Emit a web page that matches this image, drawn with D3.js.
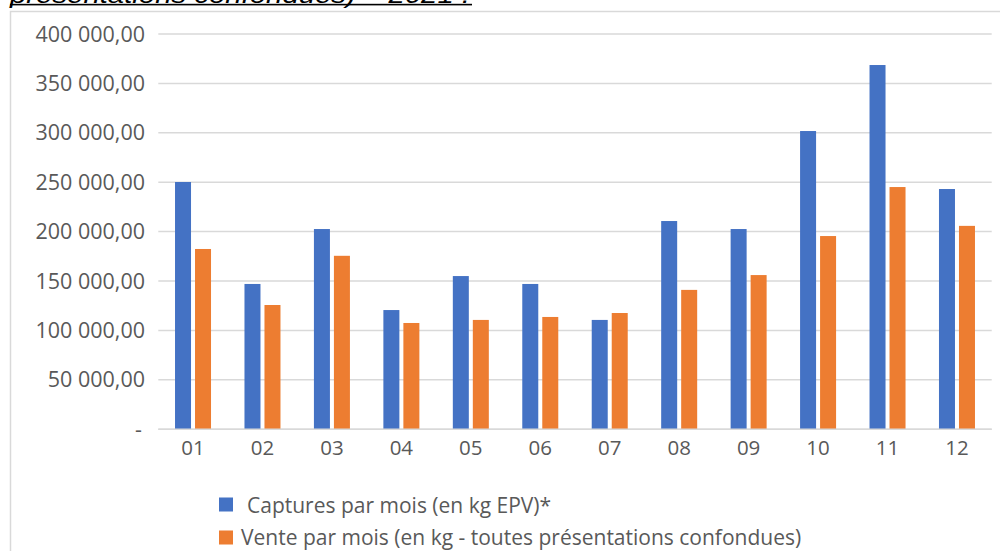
<!DOCTYPE html>
<html>
<head>
<meta charset="utf-8">
<script src="https://cdn.jsdelivr.net/npm/d3@7"></script>
<style>
  body { margin: 0; background: #fff; }
  svg { display: block; }
</style>
</head>
<body>
<div id="chart"></div>
<script>
// months and series
var months = ["01", "02", "03", "04", "05", "06", "07", "08", "09", "10", "11", "12"];
var captures = [250200, 147000, 202600, 120600, 155000, 147000, 110600, 210700, 202600, 301800, 368600, 243100];
var ventes = [182400, 125700, 175500, 107500, 110600, 113600, 117600, 141000, 156000, 195500, 245100, 205800];
var yTicks = [0, 50000, 100000, 150000, 200000, 250000, 300000, 350000, 400000];
var seriesNames = ["Captures par mois (en kg EPV)*", "Vente par mois (en kg - toutes présentations confondues)"];
var colors = ["#4472c4", "#ed7d31"];

var W = 1000, H = 551;
var plot = {left: 158.3, right: 991.7, top: 34, bottom: 429.2};

var svg = d3.select("#chart").append("svg")
    .attr("width", W)
    .attr("height", H)
    .style("font-family", "'Open Sans', 'Liberation Sans', sans-serif");

// cut-off title above the chart frame
svg.append("text")
    .attr("x", 10)
    .attr("y", 3)
    .attr("textLength", 460)
    .attr("lengthAdjust", "spacingAndGlyphs")
    .style("font-family", "'Liberation Sans', Arial, sans-serif")
    .style("font-style", "italic")
    .style("font-size", "24px")
    .attr("fill", "#000")
    .text("présentations confondues) – 2021 :");
svg.append("rect")
    .attr("x", 10).attr("y", 3.8)
    .attr("width", 462).attr("height", 1.6)
    .attr("fill", "#000");

// chart frame
svg.append("rect")
    .attr("x", 10.5).attr("y", 11.5)
    .attr("width", 1000).attr("height", 600)
    .attr("fill", "#fff")
    .attr("stroke", "#d9d9d9")
    .attr("stroke-width", 1.5);

var x = d3.scaleBand()
    .domain(months)
    .range([plot.left, plot.right]);

var y = d3.scaleLinear()
    .domain([0, 400000])
    .range([plot.bottom, plot.top]);

// gridlines
svg.append("g")
    .selectAll("line")
    .data(yTicks)
    .enter().append("line")
    .attr("x1", plot.left)
    .attr("x2", plot.right)
    .attr("y1", function(d) { return y(d); })
    .attr("y2", function(d) { return y(d); })
    .attr("stroke", "#d9d9d9")
    .attr("stroke-width", 1.5);

// y labels, french style "400 000,00", zero shown as "-"
var fmt = function(d) {
    if (d === 0) return "-";
    return d3.format(",")(d).replace(/,/g, " ") + ",00";
};
svg.append("g")
    .selectAll("text")
    .data(yTicks)
    .enter().append("text")
    .attr("x", function(d) { return d === 0 ? 142 : 145; })
    .attr("y", function(d) { return y(d); })
    .attr("dy", "0.35em")
    .attr("text-anchor", "end")
    .attr("fill", "#595959")
    .style("font-size", "21.5px")
    .text(fmt);

// bars: two per month, 16px wide with 4px gap
var barW = 16, gap = 4;

var groups = svg.append("g")
    .selectAll("g")
    .data(months)
    .enter().append("g")
    .attr("transform", function(d) {
        return "translate(" + (x(d) + (x.bandwidth() - (barW * 2 + gap)) / 2) + ",0)";
    });

groups.selectAll("rect")
    .data(function(d, i) { return [captures[i], ventes[i]]; })
    .enter().append("rect")
    .attr("x", function(d, j) { return j * (barW + gap); })
    .attr("y", function(d) { return y(d); })
    .attr("width", barW)
    .attr("height", function(d) { return plot.bottom - y(d); })
    .attr("fill", function(d, j) { return colors[j]; });

// x axis line drawn over bars
svg.append("line")
    .attr("x1", plot.left).attr("x2", plot.right)
    .attr("y1", plot.bottom).attr("y2", plot.bottom)
    .attr("stroke", "#d9d9d9")
    .attr("stroke-width", 1.5);

// x labels
svg.append("g")
    .selectAll("text")
    .data(months)
    .enter().append("text")
    .attr("x", function(d) { return x(d) + x.bandwidth() / 2; })
    .attr("y", 455)
    .attr("text-anchor", "middle")
    .attr("fill", "#595959")
    .style("font-size", "20.5px")
    .text(function(d) { return d; });

// legend
var legend = svg.append("g");
var legendRows = [
    {sq: 497.5, text: 513, tx: 247},
    {sq: 530.5, text: 545, tx: 241}
];
legendRows.forEach(function(r, i) {
    legend.append("rect")
        .attr("x", 219).attr("y", r.sq)
        .attr("width", 14).attr("height", 14)
        .attr("fill", colors[i]);
    legend.append("text")
        .attr("x", r.tx).attr("y", r.text)
        .attr("fill", "#595959")
        .style("font-size", "21px")
        .text(seriesNames[i]);
});
</script>
</body>
</html>
